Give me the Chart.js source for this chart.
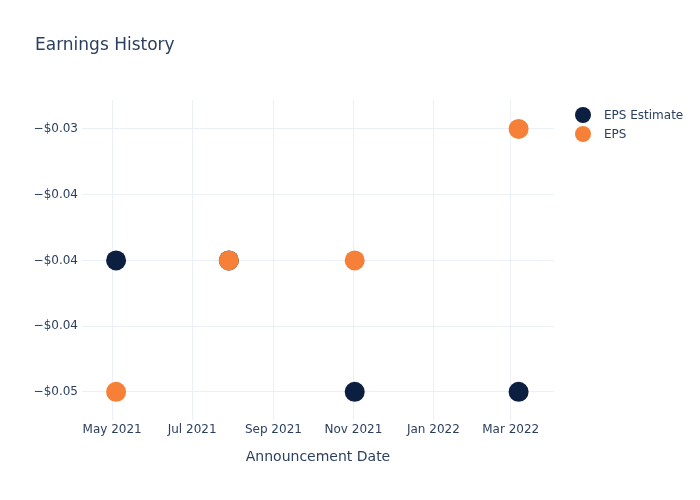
<!DOCTYPE html>
<html>
<head>
<meta charset="utf-8">
<script src="https://cdn.jsdelivr.net/npm/chart.js@4/dist/chart.umd.min.js"></script>
<style>
  html, body { margin: 0; padding: 0; background: #fff; }
  #wrap { position: relative; width: 700px; height: 500px; font-family: "DejaVu Sans", Verdana, Arial, sans-serif; color: #2a3f5f; }
  #title { position: absolute; left: 35px; top: 34px; font-size: 17px; }
  .leg { position: absolute; left: 575px; font-size: 12px; display: flex; align-items: center; }
  .leg i { display: inline-block; width: 16px; height: 16px; border-radius: 50%; margin-right: 13px; }
</style>
</head>
<body>
<div id="wrap">
  <canvas id="c" width="700" height="500"></canvas>
  <div id="title">Earnings History</div>
  <div class="leg" style="top:107px"><i style="background:#0c1f41"></i>EPS Estimate</div>
  <div class="leg" style="top:126px"><i style="background:#f68038"></i>EPS</div>
</div>
<script>
// announcement dates and values
const dates       = ['2021-05-04', '2021-07-29', '2021-11-02', '2022-03-07'];
const epsEstimate = [-0.04, -0.04, -0.05, -0.05];
const epsActual   = [-0.05, -0.04, -0.04, -0.03];

const xTickDates  = ['2021-05-01', '2021-07-01', '2021-09-01', '2021-11-01', '2022-01-01', '2022-03-01'];
const xTickLabels = ['May 2021', 'Jul 2021', 'Sep 2021', 'Nov 2021', 'Jan 2022', 'Mar 2022'];
const yTicks      = [-0.05, -0.045, -0.04, -0.035, -0.03];
const yTickLabels = ['\u2212$0.05', '\u2212$0.04', '\u2212$0.04', '\u2212$0.04', '\u2212$0.03'];

const ts = s => Date.parse(s + 'T00:00:00Z');
const toPts = vals => dates.map((d, i) => ({ x: ts(d), y: vals[i] }));

const txt = '#2a3f5f';
const grid = '#ebf0f8';
const font = { family: '"DejaVu Sans", Verdana, Arial, sans-serif', size: 12 };

new Chart(document.getElementById('c'), {
  type: 'scatter',
  data: {
    datasets: [
      { label: 'EPS Estimate', data: toPts(epsEstimate), backgroundColor: '#0c1f41', borderWidth: 0, pointRadius: 10, order: 2 },
      { label: 'EPS', data: toPts(epsActual), backgroundColor: '#f68038', borderWidth: 0, pointRadius: 10, order: 1 }
    ]
  },
  options: {
    responsive: false,
    animation: false,
    events: [],
    layout: { padding: { left: 0, top: 100, right: 146, bottom: 0 } },
    plugins: { legend: { display: false }, tooltip: { enabled: false } },
    scales: {
      x: {
        type: 'linear',
        min: ts('2021-04-08'),
        max: ts('2022-04-03'),
        afterBuildTicks: s => { s.ticks = xTickDates.map(d => ({ value: ts(d) })); },
        afterFit: s => { s.height = 80; },
        grid: { color: grid, drawTicks: false },
        border: { display: false },
        ticks: { color: txt, font, padding: 3, maxRotation: 0, autoSkip: false,
                 callback: (v, i) => xTickLabels[i] },
        title: { display: true, text: 'Announcement Date', color: txt,
                 font: { family: font.family, size: 14 }, padding: { top: 12, bottom: 34 } }
      },
      y: {
        min: -0.05214,
        max: -0.02780,
        afterBuildTicks: s => { s.ticks = yTicks.map(v => ({ value: v })); },
        afterFit: s => { s.width = 82; },
        grid: { color: grid, drawTicks: false },
        border: { display: false },
        ticks: { color: txt, font, padding: 4, autoSkip: false,
                 callback: (v, i) => yTickLabels[i] }
      }
    }
  }
});
</script>
</body>
</html>
